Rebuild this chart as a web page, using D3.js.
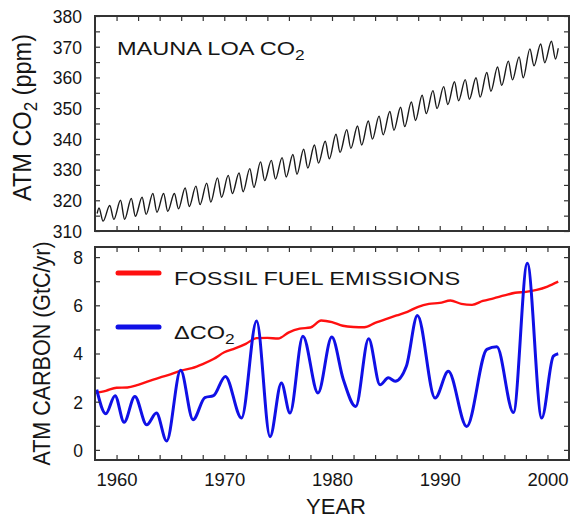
<!DOCTYPE html>
<html><head><meta charset="utf-8">
<script src="https://cdn.jsdelivr.net/npm/d3@7"></script>
<style>
body{margin:0;background:#fff}
svg{display:block}
text{font-family:"Liberation Sans",Arial,Helvetica,sans-serif;fill:#151515}
</style>
</head><body>
<svg id="chart" width="570" height="518"></svg>
<script>
// ---------------- DATA ----------------
// Mauna Loa CO2 (ppm): seasonal maxima (May) and minima (Sep/Oct) per year
const co2Years = [1958,1959,1960,1961,1962,1963,1964,1965,1966,1967,1968,1969,1970,1971,1972,1973,1974,1975,1976,1977,1978,1979,1980,1981,1982,1983,1984,1985,1986,1987,1988,1989,1990,1991,1992,1993,1994,1995,1996,1997,1998,1999,2000];
const co2Max = [317.5,318.3,320.0,320.6,321.0,322.2,322.2,322.2,324.0,324.6,325.6,327.3,328.1,328.9,330.3,332.5,333.0,333.9,334.9,336.6,338.0,339.2,341.5,343.0,344.2,345.8,347.4,348.9,350.3,352.0,354.2,355.7,357.0,358.6,359.3,359.9,361.6,363.4,365.3,366.7,369.3,370.9,371.8];
const co2Min = [313.2,313.8,313.8,314.8,315.4,316.1,316.4,317.2,318.0,318.6,319.4,321.0,322.2,322.8,324.2,326.4,326.9,327.6,328.5,330.5,332.1,333.5,335.6,336.9,338.0,339.9,341.3,342.8,344.0,346.0,348.2,349.9,351.2,352.4,352.9,353.6,355.5,357.4,359.2,359.9,363.8,364.8,366.0];
const co2Start = [1958.2, 315.7];
const co2End = [2001.0, 369.5];

// Fossil fuel emissions (GtC/yr)
const fossilYears = [1958,1959,1960,1961,1962,1963,1964,1965,1966,1967,1968,1969,1970,1971,1972,1973,1974,1975,1976,1977,1978,1979,1980,1981,1982,1983,1984,1985,1986,1987,1988,1989,1990,1991,1992,1993,1994,1995,1996,1997,1998,1999,2000,2001];
const fossilValues = [2.36,2.45,2.58,2.59,2.70,2.85,3.00,3.13,3.29,3.39,3.56,3.77,4.05,4.21,4.40,4.64,4.65,4.62,4.88,5.03,5.08,5.37,5.30,5.15,5.10,5.09,5.27,5.43,5.58,5.73,5.94,6.06,6.10,6.20,6.06,6.02,6.18,6.29,6.41,6.52,6.56,6.64,6.78,6.98];

// Atmospheric CO2 growth (GtC/yr), read at turning points of the curve
const dco2Years = [1958.16,1959.0,1959.86,1960.7,1961.7,1962.8,1963.7,1964.65,1965.95,1967.1,1968.2,1969.0,1970.1,1971.6,1973.0,1974.25,1975.3,1976.1,1977.3,1978.7,1979.98,1981.05,1982.2,1983.4,1984.46,1985.23,1985.86,1986.9,1987.93,1989.57,1990.8,1992.5,1994.37,1995.3,1996.84,1998.13,1999.47,2000.55,2001.0];
const dco2Values = [2.5,1.5,2.25,1.15,2.22,1.04,1.53,0.37,3.3,1.25,2.17,2.25,3.05,1.32,5.35,0.55,2.78,1.53,4.72,2.36,4.68,2.92,1.8,4.61,2.7,2.99,2.85,3.47,5.58,2.15,3.26,0.97,4.17,4.28,1.55,7.75,1.32,3.89,3.99];

// Ticks / labels
const yearTicks = [1960,1962,1964,1966,1968,1970,1972,1974,1976,1978,1980,1982,1984,1986,1988,1990,1992,1994,1996,1998,2000];
const yearLabels = [1960,1970,1980,1990,2000];
const co2Ticks = [310,315,320,325,330,335,340,345,350,355,360,365,370,375,380];
const co2Labels = [310,320,330,340,350,360,370,380];
const carbonTicks = [0,1,2,3,4,5,6,7,8];
const carbonLabels = [0,2,4,6,8];

// ---------------- LAYOUT ----------------
const svg = d3.select("#chart");
const L = 95, R = 569;
const top1 = 16, bot1 = 231;
const top2 = 247, bot2 = 460;
const frameColor = "#333";
const stretch = 1.24;

const x = d3.scaleLinear().domain([1958, 2002]).range([L, R]);
const y1 = d3.scaleLinear().domain([310, 380]).range([bot1, top1]);
const y2 = d3.scaleLinear().domain([-0.42, 8.42]).range([bot2, top2]);

function styleAxis(g){
  g.select(".domain").remove();
  g.selectAll(".tick line").attr("stroke", frameColor).attr("stroke-width", 1.2);
  g.selectAll("text").attr("fill", "#151515").style("font-family", '"Liberation Sans",Arial,sans-serif');
}

function panelTicks(yScale, yTickVals, top, bot){
  svg.append("g").attr("transform", `translate(0,${bot})`)
    .call(d3.axisBottom(x).tickValues(yearTicks).tickSize(-5).tickFormat(""))
    .call(styleAxis);
  svg.append("g").attr("transform", `translate(0,${top})`)
    .call(d3.axisTop(x).tickValues(yearTicks).tickSize(-5).tickFormat(""))
    .call(styleAxis);
  svg.append("g").attr("transform", `translate(${L},0)`)
    .call(d3.axisLeft(yScale).tickValues(yTickVals).tickSize(-5).tickFormat(""))
    .call(styleAxis);
  svg.append("g").attr("transform", `translate(${R},0)`)
    .call(d3.axisRight(yScale).tickValues(yTickVals).tickSize(-5).tickFormat(""))
    .call(styleAxis);
}

// ---------- Top panel ----------
const co2Points = [co2Start];
co2Years.forEach((yr, i) => {
  co2Points.push([yr + 0.37, co2Max[i]]);
  co2Points.push([yr + 0.75, co2Min[i]]);
});
co2Points.push(co2End);

svg.append("path")
  .datum(co2Points)
  .attr("fill", "none")
  .attr("stroke", "#1a1a1a")
  .attr("stroke-width", 1.4)
  .attr("d", d3.line().x(d => x(d[0])).y(d => y1(d[1])).curve(d3.curveMonotoneX));

panelTicks(y1, co2Ticks, top1, bot1);

svg.append("rect").attr("x", L).attr("y", top1).attr("width", R - L).attr("height", bot1 - top1)
  .attr("fill", "none").attr("stroke", frameColor).attr("stroke-width", 2);

svg.append("g").attr("transform", `translate(${L},0)`)
  .call(d3.axisLeft(y1).tickValues(co2Labels).tickSize(0).tickPadding(13).tickFormat(d3.format("d")))
  .call(styleAxis)
  .selectAll("text").style("font-size", "17.5px").attr("dy", "0.36em");

const t1 = svg.append("text").attr("transform", `translate(117,55) scale(${stretch},1)`).style("font-size", "19px");
t1.append("tspan").text("MAUNA LOA CO");
t1.append("tspan").text("2").attr("dy", 5).style("font-size", "14px");

const yl1 = svg.append("text")
  .attr("transform", `translate(31,${(top1 + bot1) / 2 - 6}) rotate(-90) scale(1,1.12)`)
  .attr("text-anchor", "middle").style("font-size", "23.5px");
yl1.append("tspan").text("ATM CO");
yl1.append("tspan").text("2").attr("dy", 5).style("font-size", "17px");
yl1.append("tspan").text(" (ppm)").attr("dy", -5);

// ---------- Bottom panel ----------
svg.append("path")
  .datum(fossilYears.map((yr, i) => [yr, fossilValues[i]]))
  .attr("fill", "none").attr("stroke", "#ff1010").attr("stroke-width", 2.4)
  .attr("d", d3.line().x(d => x(d[0])).y(d => y2(d[1])).curve(d3.curveMonotoneX));

svg.append("path")
  .datum(dco2Years.map((yr, i) => [yr, dco2Values[i]]))
  .attr("fill", "none").attr("stroke", "#1010e6").attr("stroke-width", 3)
  .attr("stroke-linejoin", "round")
  .attr("d", d3.line().x(d => x(d[0])).y(d => y2(d[1])).curve(d3.curveMonotoneX));

panelTicks(y2, carbonTicks, top2, bot2);

svg.append("rect").attr("x", L).attr("y", top2).attr("width", R - L).attr("height", bot2 - top2)
  .attr("fill", "none").attr("stroke", frameColor).attr("stroke-width", 2);

svg.append("g").attr("transform", `translate(${L},0)`)
  .call(d3.axisLeft(y2).tickValues(carbonLabels).tickSize(0).tickPadding(12).tickFormat(d3.format("d")))
  .call(styleAxis)
  .selectAll("text").style("font-size", "17.5px").attr("dy", "0.36em");

svg.append("g").attr("transform", `translate(0,${bot2})`)
  .call(d3.axisBottom(x).tickValues(yearLabels).tickSize(0).tickPadding(13).tickFormat(d3.format("d")))
  .call(styleAxis)
  .selectAll("text").style("font-size", "18.5px");

svg.append("text").attr("x", (L + R) / 2 + 4).attr("y", 514)
  .attr("text-anchor", "middle").style("font-size", "22px").text("YEAR");

svg.append("text")
  .attr("transform", `translate(50,${(top2 + bot2) / 2}) rotate(-90) scale(1,1.1)`)
  .attr("text-anchor", "middle").style("font-size", "21.5px")
  .text("ATM CARBON (GtC/yr)");

// Legend
const legend = [
  {label: "FOSSIL FUEL EMISSIONS", color: "#ff1010", y: 273},
  {label: "\u0394CO", sub: "2", color: "#1010e6", y: 327}
];
legend.forEach(d => {
  svg.append("line").attr("x1", 118).attr("x2", 159).attr("y1", d.y).attr("y2", d.y)
    .attr("stroke", d.color).attr("stroke-width", 5).attr("stroke-linecap", "round");
  const t = svg.append("text").attr("transform", `translate(174,${d.y + 12}) scale(${stretch},1)`).style("font-size", "19px");
  t.append("tspan").text(d.label);
  if (d.sub) t.append("tspan").text(d.sub).attr("dy", 5).style("font-size", "14px");
});
</script>
</body></html>
